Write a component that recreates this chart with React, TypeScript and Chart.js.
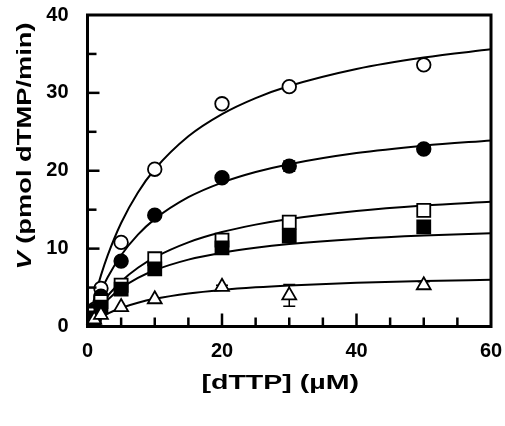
import React, { useEffect, useRef } from 'react';
import { Chart, registerables } from 'chart.js';

Chart.register(...registerables);

// measured substrate concentrations (µM)
const concentrations = [1, 2, 5, 10, 20, 30, 50];
// measured velocities (pmol dTMP/min)
const openCircle = [2.2, 4.9, 10.8, 20.2, 28.6, 30.8, 33.6];
const filledCircle = [2.0, 3.9, 8.4, 14.3, 19.1, 20.6, 22.8];
const openSquare = [1.6, 3.2, 5.3, 8.7, 11.1, 13.4, 14.9];
const filledSquare = [1.1, 2.5, 4.8, 7.4, 10.1, 11.6, 12.8];
const triangle = [0.9, 1.5, 2.5, 3.5, 5.1, 4.0, 5.3];
// error bars (±)
const filledCircleErr = [0, 0, 0, 0, 0, 0.65, 0];
const triangleErr = [0, 0, 0, 0, 0.2, 1.4, 0.45];

// fitted curves
const fitX = [0, 1, 2, 3, 5, 7.5, 10, 15, 20, 25, 30, 40, 50, 60];
const fitOpenCircle = [0, 3.56, 6.56, 9.13, 13.29, 17.21, 20.19, 24.42, 27.27, 29.33, 30.88, 33.07, 34.54, 35.59];
const fitFilledCircle = [0, 2.48, 4.55, 6.32, 9.15, 11.8, 13.79, 16.6, 18.48, 19.83, 20.84, 22.27, 23.22, 23.9];
const fitOpenSquare = [0, 1.53, 2.83, 3.95, 5.79, 7.54, 8.88, 10.81, 12.13, 13.08, 13.81, 14.83, 15.53, 16.03];
const fitFilledSquare = [0, 1.37, 2.49, 3.42, 4.89, 6.23, 7.23, 8.59, 9.48, 10.12, 10.59, 11.24, 11.68, 11.98];
const fitTriangle = [0, 0.66, 1.2, 1.66, 2.38, 3.05, 3.55, 4.24, 4.7, 5.03, 5.27, 5.61, 5.84, 6.0];

const xTicks = [0, 20, 40, 60];
const yTicks = [0, 10, 20, 30, 40];

const xTitle = '[dTTP] (µM)';
const yTitleItalic = 'V';
const yTitleRest = ' (pmol dTMP/min)';

const FONT = "'Liberation Sans', Arial, Helvetica, sans-serif";

const pts = (xs: number[], ys: number[]) => xs.map((x, i) => ({ x, y: ys[i] }));

const decorPlugin = {
  id: 'decor',
  beforeDatasetsDraw(chart: any) {
    const ctx = chart.ctx;
    const xs = chart.scales.x;
    const ys = chart.scales.y;
    ctx.save();
    ctx.strokeStyle = '#000';
    ctx.lineWidth = 1.5;
    const bars = [
      { vals: filledCircle, err: filledCircleErr },
      { vals: triangle, err: triangleErr },
    ];
    bars.forEach(({ vals, err }) => {
      vals.forEach((v, i) => {
        const e = err[i];
        if (!e) return;
        const px = xs.getPixelForValue(concentrations[i]);
        const y1 = ys.getPixelForValue(v - e);
        const y2 = ys.getPixelForValue(v + e);
        ctx.beginPath();
        ctx.moveTo(px, y1);
        ctx.lineTo(px, y2);
        ctx.moveTo(px - 6, y1);
        ctx.lineTo(px + 6, y1);
        ctx.moveTo(px - 6, y2);
        ctx.lineTo(px + 6, y2);
        ctx.stroke();
      });
    });
    ctx.restore();
  },
  afterDatasetsDraw(chart: any) {
    const ctx = chart.ctx;
    const a = chart.chartArea;
    const xs = chart.scales.x;
    const ys = chart.scales.y;
    ctx.save();
    ctx.strokeStyle = '#000';
    ctx.lineWidth = 2.5;
    ctx.lineCap = 'butt';
    // inward ticks
    for (let v = xs.min + 5; v < xs.max; v += 5) {
      const px = xs.getPixelForValue(v);
      const len = v % 20 === 0 ? 13 : 9;
      ctx.beginPath();
      ctx.moveTo(px, a.bottom);
      ctx.lineTo(px, a.bottom - len);
      ctx.stroke();
    }
    for (let v = ys.min + 5; v < ys.max; v += 5) {
      const py = ys.getPixelForValue(v);
      const len = v % 10 === 0 ? 12 : 9;
      ctx.beginPath();
      ctx.moveTo(a.left, py);
      ctx.lineTo(a.left + len, py);
      ctx.stroke();
    }
    // frame
    ctx.lineWidth = 3;
    ctx.strokeRect(a.left, a.top, a.right - a.left, a.bottom - a.top);
    ctx.restore();
  },
  afterDraw(chart: any) {
    const ctx = chart.ctx;
    const a = chart.chartArea;
    ctx.save();
    ctx.fillStyle = '#000';
    ctx.textBaseline = 'middle';
    // x title
    ctx.font = `bold 21px ${FONT}`;
    const sx = 1.36;
    const wx = ctx.measureText(xTitle).width * sx;
    const cx = (a.left + a.right) / 2 - 9;
    ctx.save();
    ctx.translate(cx - wx / 2, a.bottom + 57);
    ctx.scale(sx, 1);
    ctx.textAlign = 'left';
    ctx.fillText(xTitle, 0, 0);
    ctx.restore();
    // y title
    const sy = 1.3;
    ctx.font = `italic bold 21px ${FONT}`;
    const w1 = ctx.measureText(yTitleItalic).width;
    ctx.font = `bold 21px ${FONT}`;
    const w2 = ctx.measureText(yTitleRest).width;
    const total = (w1 + w2) * sy;
    ctx.save();
    ctx.translate(25, 146);
    ctx.rotate(-Math.PI / 2);
    ctx.translate(-total / 2, 0);
    ctx.scale(sy, 1);
    ctx.textAlign = 'left';
    ctx.font = `italic bold 21px ${FONT}`;
    ctx.fillText(yTitleItalic, 0, 0);
    ctx.font = `bold 21px ${FONT}`;
    ctx.fillText(yTitleRest, w1, 0);
    ctx.restore();
    ctx.restore();
  },
};

export default function App() {
  const ref = useRef<HTMLCanvasElement | null>(null);
  useEffect(() => {
    if (!ref.current) return;
    const curve = (ys: number[]) => ({
      type: 'line' as const,
      data: pts(fitX, ys),
      showLine: true,
      borderColor: '#000',
      borderWidth: 2,
      pointRadius: 0,
      fill: false,
      cubicInterpolationMode: 'monotone' as const,
      order: 10,
    });
    const marker = (ys: number[], style: string, fill: string, radius: number, order: number) => ({
      type: 'scatter' as const,
      data: pts(concentrations, ys),
      showLine: false,
      pointStyle: style,
      pointRadius: radius,
      pointBackgroundColor: fill,
      pointBorderColor: '#000',
      pointBorderWidth: 1.8,
      backgroundColor: fill,
      borderColor: '#000',
      clip: false,
      order,
    });
    const chart = new Chart(ref.current, {
      type: 'scatter',
      data: {
        datasets: [
          curve(fitOpenCircle),
          curve(fitFilledCircle),
          curve(fitOpenSquare),
          curve(fitFilledSquare),
          curve(fitTriangle),
          marker(openCircle, 'circle', '#fff', 6.8, 5),
          marker(filledCircle, 'circle', '#000', 6.8, 4),
          marker(openSquare, 'rect', '#fff', 9.2, 3),
          marker(filledSquare, 'rect', '#000', 9.2, 2),
          marker(triangle, 'triangle', '#fff', 8, 1),
        ] as any,
      },
      options: {
        animation: false,
        responsive: true,
        maintainAspectRatio: false,
        layout: { padding: { left: 0, top: 15, right: 14, bottom: 0 } },
        plugins: { legend: { display: false }, tooltip: { enabled: false } },
        scales: {
          x: {
            type: 'linear',
            min: 0,
            max: 60,
            afterBuildTicks: (s: any) => {
              s.ticks = xTicks.map((v) => ({ value: v }));
            },
            afterFit: (s: any) => {
              s.height = 99.5;
              s.paddingLeft = 0;
              s.paddingRight = 0;
            },
            ticks: {
              color: '#000',
              padding: 13,
              font: { family: FONT, size: 20, weight: 'bold' },
              maxRotation: 0,
            },
            grid: { display: false, drawTicks: false },
            border: { display: false },
          },
          y: {
            type: 'linear',
            min: 0,
            max: 40,
            afterBuildTicks: (s: any) => {
              s.ticks = yTicks.map((v) => ({ value: v }));
            },
            afterFit: (s: any) => {
              s.width = 87.5;
              s.paddingTop = 0;
              s.paddingBottom = 0;
            },
            ticks: {
              color: '#000',
              padding: 19,
              font: { family: FONT, size: 20, weight: 'bold' },
            },
            grid: { display: false, drawTicks: false },
            border: { display: false },
          },
        },
      },
      plugins: [decorPlugin],
    });
    return () => chart.destroy();
  }, []);
  return (
    <div style={{ position: 'fixed', left: 0, top: 0, width: 505, height: 426, background: '#fff' }}>
      <canvas ref={ref} />
    </div>
  );
}
